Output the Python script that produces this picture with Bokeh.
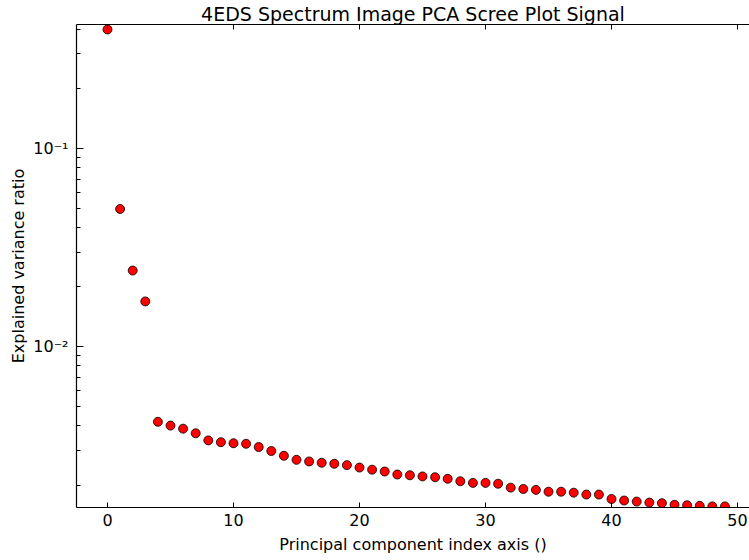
from bokeh.plotting import figure
from bokeh.models import (Range1d, LinearAxis, FixedTicker, CustomJSTickFormatter,
                          ColumnDataSource, LogTicker)
from bokeh.embed import file_html
from bokeh.resources import INLINE

# ---- data ----
component_index = list(range(50))
explained_variance_ratio = [
    0.399, 0.0495, 0.0242, 0.0169, 0.00417, 0.00399, 0.00385, 0.00365, 0.00336, 0.00329,
    0.00325, 0.00323, 0.00311, 0.00297, 0.00281, 0.00268, 0.00263, 0.00259, 0.00256, 0.00252,
    0.00245, 0.00239, 0.00234, 0.00226, 0.00224, 0.00221, 0.00219, 0.00215, 0.00209, 0.00205,
    0.00205, 0.00203, 0.00194, 0.00191, 0.00189, 0.00185, 0.00185, 0.00183, 0.00179, 0.00179,
    0.00170, 0.00167, 0.00165, 0.00163, 0.00162, 0.00159, 0.00158, 0.00157, 0.00156, 0.00156,
]
x_ticks = [0, 10, 20, 30, 40, 50]
title_text = "4EDS Spectrum Image PCA Scree Plot Signal"
x_label = "Principal component index axis ()"
y_label = "Explained variance ratio"

FONT = "DejaVu Sans"

p = figure(width=749, height=560, y_axis_type="log",
           x_range=Range1d(-2.46, 50.95), y_range=Range1d(0.00154, 0.4227),
           output_backend="svg", toolbar_location=None,
           min_border_left=76, min_border_right=0, min_border_top=24, min_border_bottom=53)

p.title.text = title_text
p.title.text_font = FONT
p.title.text_font_size = "19px"
p.title.text_font_style = "normal"
p.title.text_color = "black"
p.title.align = "center"
p.title.standoff = 0
p.title.offset = 3

p.outline_line_color = None
p.xgrid.visible = False
p.ygrid.visible = False
p.background_fill_color = "white"
p.border_fill_color = "white"

src = ColumnDataSource(dict(x=component_index, y=explained_variance_ratio))
p.scatter("x", "y", source=src, size=9, fill_color="#ff0000", line_color="black",
          line_width=0.8)

# bottom axis
xa = p.xaxis[0]
xa.ticker = FixedTicker(ticks=x_ticks, minor_ticks=[])
xa.axis_label = x_label
xa.axis_label_text_font = FONT
xa.axis_label_text_font_size = "16px"
xa.axis_label_text_font_style = "normal"
xa.axis_label_text_color = "black"
xa.axis_label_standoff = 6
xa.major_label_text_font = FONT
xa.major_label_text_font_size = "16px"
xa.major_label_text_color = "black"
xa.major_label_standoff = 6
xa.major_tick_in = 5
xa.major_tick_out = 0
xa.minor_tick_in = 0
xa.minor_tick_out = 0
xa.axis_line_color = "black"
xa.axis_line_width = 1.2
xa.major_tick_line_color = "black"

# left axis (log)
ya = p.yaxis[0]
ya.ticker = LogTicker(num_minor_ticks=10)
ya.formatter = CustomJSTickFormatter(code="""
const e = Math.round(Math.log10(tick));
const sup = {"-": "\\u207B", "0": "\\u2070", "1": "\\u00B9", "2": "\\u00B2", "3": "\\u00B3",
             "4": "\\u2074", "5": "\\u2075", "6": "\\u2076", "7": "\\u2077", "8": "\\u2078", "9": "\\u2079"};
return "10" + String(e).split("").map(c => sup[c]).join("");
""")
ya.axis_label = y_label
ya.axis_label_text_font = FONT
ya.axis_label_text_font_size = "16px"
ya.axis_label_text_font_style = "normal"
ya.axis_label_text_color = "black"
ya.axis_label_standoff = 2
ya.major_label_text_font = FONT
ya.major_label_text_font_size = "16px"
ya.major_label_text_color = "black"
ya.major_label_standoff = 8
ya.major_tick_in = 7
ya.major_tick_out = 0
ya.minor_tick_in = 4
ya.minor_tick_out = 0
ya.axis_line_color = "black"
ya.axis_line_width = 1.2
ya.major_tick_line_color = "black"
ya.minor_tick_line_color = "black"

# top spine with inward ticks (matplotlib classic look), no labels
top = LinearAxis(ticker=FixedTicker(ticks=x_ticks, minor_ticks=[]),
                 formatter=CustomJSTickFormatter(code='return "";'),
                 major_label_standoff=0,
                 major_tick_in=5, major_tick_out=0, minor_tick_in=0, minor_tick_out=0,
                 axis_line_color="black", axis_line_width=1.2,
                 major_tick_line_color="black")
p.add_layout(top, "above")

open("out.html", "w", encoding="utf-8").write(file_html(p, INLINE))
